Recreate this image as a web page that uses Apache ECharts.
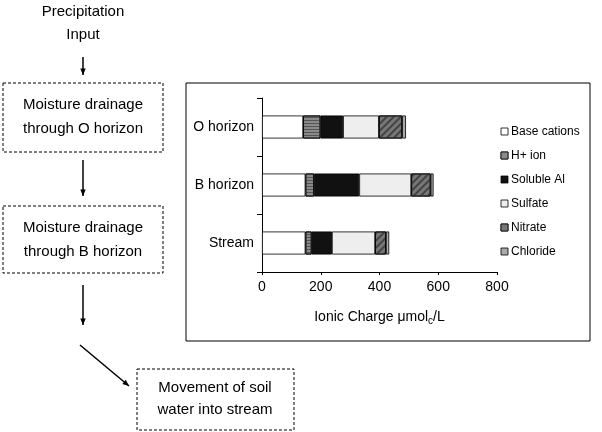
<!DOCTYPE html><html><head><meta charset="utf-8"><script src="https://cdn.jsdelivr.net/npm/echarts@6/dist/echarts.min.js"></script></head><body style="margin:0"><div id="c" style="width:602px;height:432px"></div><script>
const categories=['Stream','B horizon','O horizon'];
const seriesNames=['Base cations','H+ ion','Soluble Al','Sulfate','Nitrate','Chloride'];
const baseCations=[148,148,140];
const hIon=[21,29,59];
const solubleAl=[69,154,77];
const sulfate=[147,177,122];
const nitrate=[37,66,79];
const chloride=[11,10,13];
const xTicks=[0,200,400,600,800];
const vals=[baseCations,hIon,solubleAl,sulfate,nitrate,chloride];
const colors=['#ffffff','#8a8a8a','#111111','#eeeeee','#777777','#aaaaaa'];
const decals=[null,{symbol:'rect',dashArrayX:[1,0],dashArrayY:[1,2],rotation:0,color:'#555'},null,null,{symbol:'rect',dashArrayX:[1,0],dashArrayY:[2,3],rotation:-Math.PI/4,color:'#444'},null];
const ch=echarts.init(document.getElementById('c'));
const F='Liberation Sans, Arial, sans-serif';
const box=(x,y,w,h)=>({type:'rect',shape:{x,y,width:w,height:h},style:{fill:'none',stroke:'#000',lineWidth:1,lineDash:[3,2]}});
const txt=(x,y,t)=>({type:'text',x,y,style:{text:t,font:'15px '+F,fill:'#000',align:'center',verticalAlign:'middle'}});
const arrow=(x1,y1,x2,y2)=>{const a=Math.atan2(y2-y1,x2-x1),s=7;return [{type:'line',shape:{x1,y1,x2,y2},style:{stroke:'#000',lineWidth:1.5}},{type:'polygon',shape:{points:[[x2,y2],[x2-s*Math.cos(a-0.4),y2-s*Math.sin(a-0.4)],[x2-s*Math.cos(a+0.4),y2-s*Math.sin(a+0.4)]]},style:{fill:'#000'}}];};
const legendItems=seriesNames.map((n,i)=>[{type:'rect',shape:{x:501,y:128+i*24,width:7,height:7},style:{fill:colors[i],stroke:'#000',lineWidth:0.8,decal:decals[i]||undefined}},{type:'text',x:511,y:132+i*24,style:{text:n,font:'12px '+F,fill:'#000',verticalAlign:'middle'}}]).flat();
ch.setOption({animation:false,
grid:{left:262,right:105,top:98,bottom:160},
xAxis:{type:'value',min:0,max:800,interval:200,axisLine:{show:true,lineStyle:{color:'#000'}},axisTick:{show:true,inside:false,length:3,lineStyle:{color:'#000'}},splitLine:{show:false},axisLabel:{color:'#000',fontSize:14,fontFamily:F,margin:8,formatter:v=>xTicks.includes(v)?String(v):''},
 name:'{a|Ionic Charge μmol}{b|c}{a|/L}',nameLocation:'middle',nameGap:36,nameTextStyle:{rich:{a:{fontSize:14,fontFamily:F,color:'#000'},b:{fontSize:10,fontFamily:F,color:'#000',verticalAlign:'bottom',padding:[8,0,0,0]}}}},
yAxis:{type:'category',data:categories,axisLine:{lineStyle:{color:'#000'}},axisTick:{show:true,lineStyle:{color:'#000'}},axisLabel:{color:'#000',fontSize:14,fontFamily:F}},
series:seriesNames.map((n,i)=>({name:n,type:'bar',stack:'t',data:vals[i],barWidth:23,itemStyle:{color:colors[i],borderColor:'#000',borderWidth:0.8,decal:decals[i]||undefined}})),
aria:{enabled:false},
graphic:[{type:'rect',shape:{x:186,y:83,width:404,height:258},style:{fill:'none',stroke:'#000',lineWidth:1},z:-1},
 txt(83,12,'Precipitation'),txt(83,35,'Input'),
 box(3,83,160,69),txt(83,105,'Moisture drainage'),txt(83,129,'through O horizon'),
 box(3,206,160,67),txt(83,228,'Moisture drainage'),txt(83,252,'through B horizon'),
 box(137,369,157,61),txt(215,388,'Movement of soil'),txt(215,410,'water into stream'),
 ...arrow(83,57,83,75),...arrow(83,160,83,196),...arrow(83,285,83,325),...arrow(80,345,129,386),
 ...legendItems]
});
</script></body></html>
